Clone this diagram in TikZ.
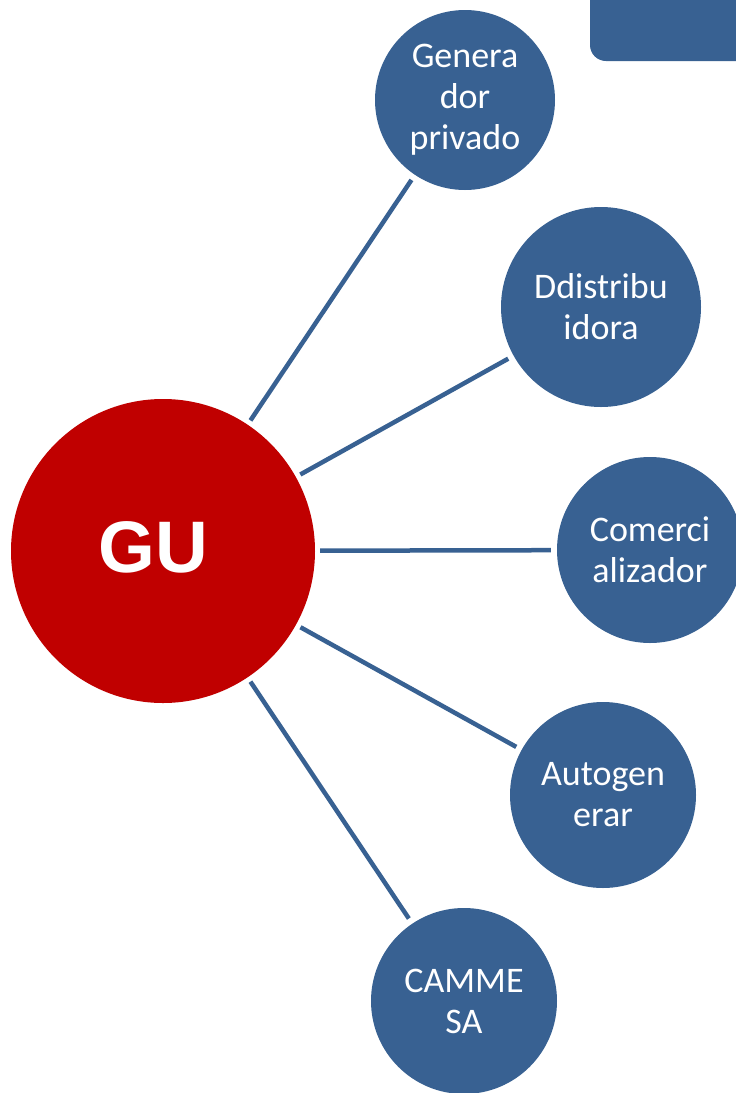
\documentclass[tikz,border=0pt]{standalone}
\usepackage{fontspec}
\setmainfont{Carlito}
\newfontfamily\gufont{Liberation Sans}
\definecolor{nodeblue}{RGB}{56,97,146}
\definecolor{gured}{RGB}{192,0,0}
\tikzset{
  agent/.style={circle, fill=nodeblue, text=white, inner sep=0pt, align=center,
    font=\fontsize{36}{41}\selectfont},
  link/.style={nodeblue, line width=4.5pt, shorten <=5pt, shorten >=6pt},
}

\begin{document}
\begin{tikzpicture}[x=1pt, y=-1pt]
    \clip (0,0) rectangle (736,1093);
    \fill[white] (0,0) rectangle (736,1093);

    % tab in the corner
    \fill[nodeblue, rounded corners=16pt] (590,-30) rectangle (770,61);

    \node[circle, fill=gured, inner sep=0pt, minimum size=304pt] (gu) at (163,551) {};
    \node[text=white, font=\gufont\bfseries\fontsize{73}{80}\selectfont] (gulabel) at (153,547) {GU};

    \node[agent, minimum size=180pt] (gen)  at (465,100)  {Genera\\dor\\privado};
    \node[agent, minimum size=200pt] (dist) at (601,307)  {Ddistribu\\idora};
    \node[agent, minimum size=186pt] (com)  at (650,550)  {Comerci\\alizador};
    \node[agent, minimum size=186pt] (auto) at (603,795)  {Autogen\\erar};
    \node[agent, minimum size=186pt] (cam)  at (464,1001) {CAMME\\SA};

    \draw[link] (gu) -- (gen);
    \draw[link] (gu) -- (dist);
    \draw[link] (gu) -- (com);
    \draw[link] (gu) -- (auto);
    \draw[link] (gu) -- (cam);
\end{tikzpicture}
\end{document}
